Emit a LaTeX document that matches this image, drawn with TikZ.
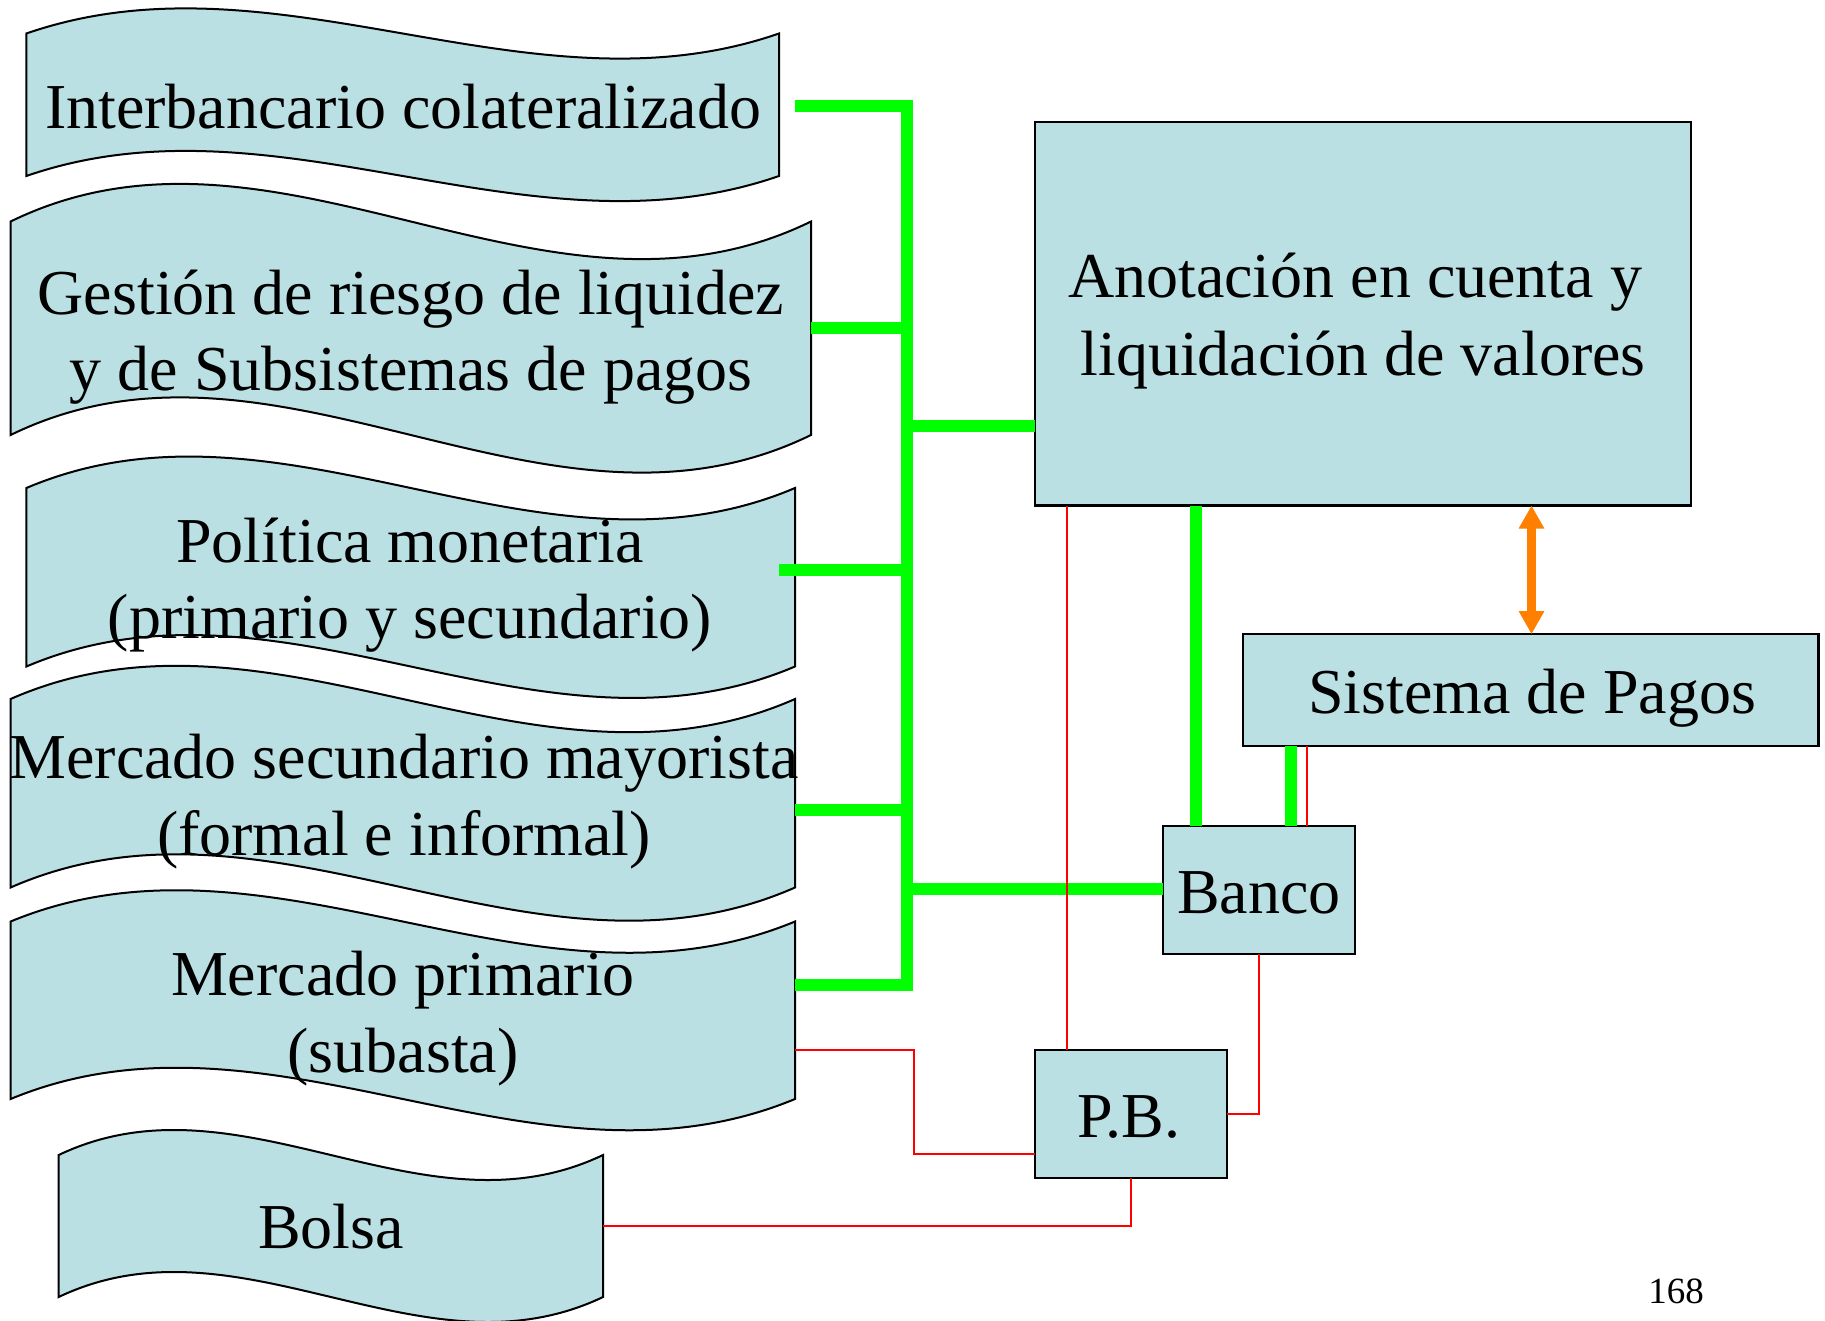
\documentclass[tikz,border=0pt]{standalone}
\usepackage{fontspec}
\setmainfont{Liberation Serif}
\usetikzlibrary{arrows.meta}
\definecolor{boxfill}{RGB}{187,224,227}
\definecolor{lgreen}{RGB}{0,255,0}
\definecolor{lorange}{RGB}{255,128,0}
\definecolor{lred}{RGB}{255,0,0}
% #1 name, #2 left, #3 top, #4 right, #5 bottom (pixel units, y downwards)
\newcommand\wavebox[5]{%
  \pgfmathsetmacro\wvL{#2}\pgfmathsetmacro\wvT{#3}%
  \pgfmathsetmacro\wvR{#4}\pgfmathsetmacro\wvB{#5}%
  \pgfmathsetmacro\wvA{\wvL+(\wvR-\wvL)/3}%
  \pgfmathsetmacro\wvC{\wvL+2*(\wvR-\wvL)/3}%
  \pgfmathsetmacro\wvH{0.61*(\wvB-\wvT)}%
  \draw[wave] (\wvL,\wvT) .. controls (\wvA,\wvT-\wvH) and (\wvC,\wvT+\wvH) .. (\wvR,\wvT)
     -- (\wvR,\wvB) .. controls (\wvC,\wvB+\wvH) and (\wvA,\wvB-\wvH) .. (\wvL,\wvB) -- cycle;
  \node[anchorbox, minimum width={(\wvR-\wvL)*1pt}, minimum height={(\wvB-\wvT)*1pt}]
     (#1) at ({(\wvL+\wvR)/2},{(\wvT+\wvB)/2}) {};%
}
\begin{document}
\begin{tikzpicture}[x=1pt,y=-1pt,
  wave/.style={draw=black, line width=2pt, fill=boxfill},
  rectbox/.style={draw=black, line width=2.2pt, fill=boxfill, inner sep=0pt, outer sep=0pt},
  anchorbox/.style={inner sep=0pt, outer sep=0pt},
  lbl/.style={anchor=base, inner sep=0pt, font=\fontsize{64}{76}\selectfont},
  pagenum/.style={anchor=base, inner sep=0pt, font=\fontsize{37}{44}\selectfont},
  greenline/.style={draw=lgreen, line width=11.7pt},
  redline/.style={draw=lred, line width=2pt},
  orangearrow/.style={draw=lorange, line width=8.7pt,
     {Triangle[width=24pt,length=23pt]}-{Triangle[width=24pt,length=23pt]}}
]
\fill[white] (0,0) rectangle (1825,1321);
\useasboundingbox (0,0) rectangle (1825,1321);

% wave boxes
\wavebox{w1}{26.4}{33.5}{779}{176}
\wavebox{w2}{10.6}{221.5}{811}{435}
\wavebox{w3}{26.4}{488}{795}{666.5}
\wavebox{w4}{10.6}{699}{795}{887.5}
\wavebox{w5}{10.6}{921.5}{795}{1099}
\wavebox{w6}{58.7}{1155}{603}{1297}

% rectangles
\node[rectbox, minimum width=656pt, minimum height=383.5pt] (anot) at (1363,313.75) {};
\node[rectbox, minimum width=575.5pt, minimum height=111.7pt] (sist) at (1530.75,690) {};
\node[rectbox, minimum width=192pt, minimum height=128pt] (banco) at (1259,890) {};
\node[rectbox, minimum width=192pt, minimum height=128pt] (pb) at (1131,1114) {};

% texts
\node[lbl] (t1) at (403,129) {Interbancario colateralizado};
\node[lbl] (t2a) at (411,315) {Gestión de riesgo de liquidez};
\node[lbl] (t2b) at (411,390) {y de Subsistemas de pagos};
\node[lbl] (t3a) at (410,562) {Política monetaria};
\node[lbl] (t3b) at (410,638) {(primario y secundario)};
\node[lbl] (t4a) at (404,778) {Mercado secundario mayorista};
\node[lbl] (t4b) at (404,855) {(formal e informal)};
\node[lbl] (t5a) at (403,995) {Mercado primario};
\node[lbl] (t5b) at (403,1072) {(subasta)};
\node[lbl] (t6) at (331,1248) {Bolsa};
\node[lbl] (ta) at (1355,298) {Anotación en cuenta y};
\node[lbl] (tb) at (1363,375) {liquidación de valores};
\node[lbl] (ts) at (1532,713) {Sistema de Pagos};
\node[lbl] (tbanco) at (1259,913) {Banco};
\node[lbl] (tpb) at (1129,1137) {P.B.};
\node[pagenum] (pnum) at (1676,1303) {168};

% trunk coordinates
\coordinate (jtop) at (907,106);
\coordinate (j2) at (907,328);
\coordinate (janot) at (907,426);
\coordinate (j3) at (907,570);
\coordinate (j4) at (907,810);
\coordinate (jbanco) at (907,889);
\coordinate (jbot) at (907,985);

% green connectors
\draw[greenline, line join=miter] ([xshift=16pt]w1.east |- jtop) -- (jtop) -- (jbot) -- (w5.east |- jbot);
\draw[greenline] (w2.east |- j2) -- (j2);
\draw[greenline] ([xshift=-16pt]w3.east |- j3) -- (j3);
\draw[greenline] (w4.east |- j4) -- (j4);
\draw[greenline] (janot) -- (anot.west |- janot);
\draw[greenline] (jbanco) -- (banco.west |- jbanco);
\draw[greenline] (anot.south -| 1196,0) -- (banco.north -| 1196,0);
\draw[greenline] (sist.south -| 1291,0) -- (banco.north -| 1291,0);

% red connectors
\coordinate (rc1) at (914,1050);
\coordinate (rc2) at (914,1154);
\draw[redline] (anot.south -| 1067,0) -- (pb.north -| 1067,0);
\draw[redline] (sist.south -| 1307,0) -- (banco.north -| 1307,0);
\draw[redline] (w5.east |- rc1) -- (rc1) -- (rc2) -- (pb.west |- rc2);
\draw[redline] (banco.south) |- (pb.east);
\draw[redline] (pb.south) |- (w6.east |- 0,1226);

% orange double arrow
\draw[orangearrow] (anot.south -| 1531.5,0) -- (sist.north -| 1531.5,0);
\end{tikzpicture}
\end{document}
